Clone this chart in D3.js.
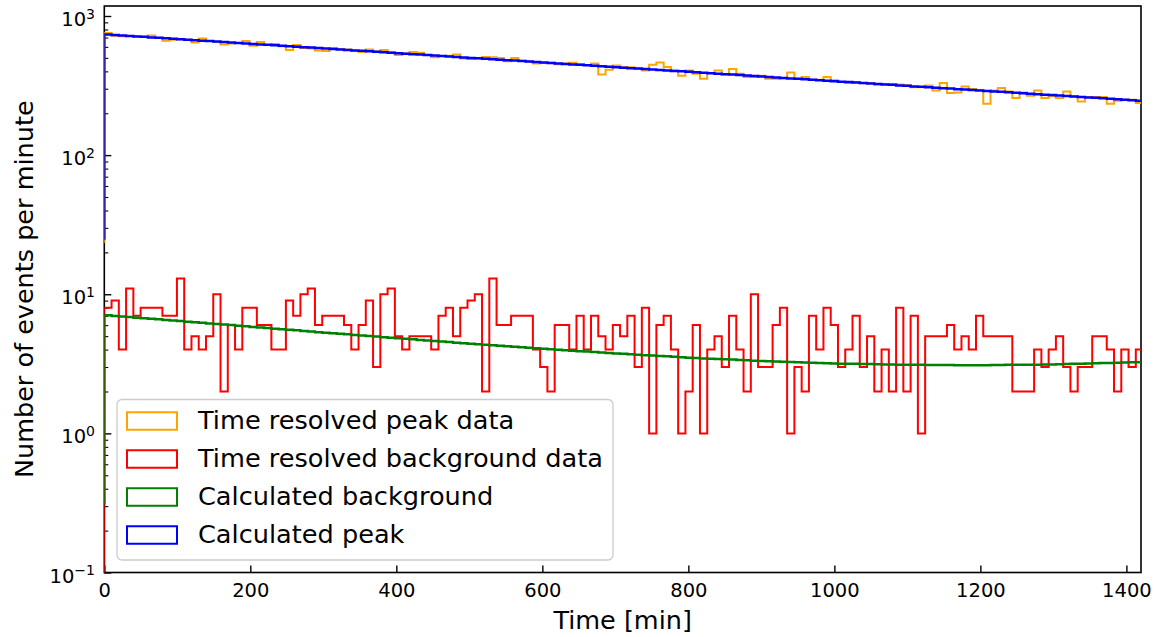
<!DOCTYPE html>
<html>
<head>
<meta charset="utf-8">
<script src="https://cdn.jsdelivr.net/npm/d3@7"></script>
<style>
  body { margin: 0; background: white; }
  svg { font-family: "DejaVu Sans", sans-serif; }
</style>
</head>
<body>
<div id="chart"></div>
<script>
// bins of ~10 min starting at t = 0
var binWidth = 9.95;

var peakData = [755, 720, 714, 719, 713, 708, 725, 697, 665, 675,
    681, 675, 645, 690, 660, 650, 625, 635, 640, 660,
    610, 650, 618, 630, 605, 570, 620, 590, 585, 565,
    560, 590, 580, 575, 562, 550, 575, 555, 570, 548,
    525, 538, 550, 545, 525, 505, 515, 518, 528, 495,
    490, 495, 508, 505, 498, 472, 500, 476, 470, 455,
    460, 462, 450, 455, 462, 450, 445, 455, 380, 410,
    440, 430, 428, 418, 405, 446, 464, 430, 406, 372,
    406, 385, 354, 389, 406, 379, 416, 385, 364, 364,
    372, 354, 354, 357, 393, 354, 364, 348, 348, 364,
    345, 335, 330, 336, 328, 330, 322, 325, 325, 322,
    318, 307, 307, 316, 292, 330, 280, 282, 312, 299,
    294, 234, 292, 304, 287, 257, 282, 267, 292, 257,
    265, 257, 287, 265, 243, 262, 262, 262, 234, 246,
    250, 250, 237];

var backgroundData = [8, 9, 4, 11, 7, 8, 8, 8, 7, 7,
    13, 4, 5, 4, 5, 10, 2, 6, 4, 8,
    8, 6, 6, 4, 4, 9, 7, 10, 11, 6,
    7, 7, 7, 6, 4, 6, 9, 3, 10, 11,
    5, 4, 5, 5, 5, 4, 7, 8, 5, 8,
    9, 10, 2, 13, 6, 6, 7, 7, 7, 4,
    3, 2, 6, 6, 4, 7, 4, 7, 5, 4,
    6, 5, 7, 3, 8, 1, 6, 7, 4, 1,
    2, 6, 1, 4, 5, 3, 7, 4, 2, 10,
    3, 3, 6, 8, 1, 3, 2, 7, 4, 8,
    6, 3, 4, 7, 3, 5, 2, 4, 2, 8,
    2, 7, 1, 5, 5, 5, 6, 4, 5, 4,
    7, 5, 5, 5, 5, 2, 2, 2, 4, 3,
    4, 5, 3, 2, 3, 3, 5, 5, 4, 2,
    4, 3, 4];

var calcBackground = [7.05, 6.99, 6.92, 6.86, 6.79, 6.73, 6.67, 6.60, 6.54, 6.47,
    6.41, 6.35, 6.29, 6.23, 6.17, 6.12, 6.06, 6.00, 5.94, 5.88,
    5.82, 5.77, 5.71, 5.66, 5.61, 5.56, 5.50, 5.45, 5.40, 5.34,
    5.29, 5.24, 5.20, 5.15, 5.10, 5.06, 5.01, 4.96, 4.91, 4.87,
    4.82, 4.78, 4.74, 4.69, 4.65, 4.61, 4.57, 4.53, 4.48, 4.44,
    4.40, 4.37, 4.33, 4.30, 4.26, 4.23, 4.19, 4.16, 4.12, 4.09,
    4.05, 4.02, 3.99, 3.96, 3.93, 3.90, 3.87, 3.84, 3.81, 3.78,
    3.75, 3.73, 3.70, 3.68, 3.65, 3.63, 3.60, 3.58, 3.55, 3.53,
    3.50, 3.48, 3.46, 3.44, 3.42, 3.41, 3.39, 3.37, 3.35, 3.33,
    3.31, 3.30, 3.28, 3.27, 3.26, 3.25, 3.23, 3.22, 3.21, 3.19,
    3.18, 3.17, 3.17, 3.16, 3.15, 3.15, 3.14, 3.13, 3.13, 3.12,
    3.11, 3.11, 3.11, 3.10, 3.10, 3.10, 3.10, 3.09, 3.09, 3.09,
    3.09, 3.09, 3.10, 3.10, 3.11, 3.11, 3.11, 3.12, 3.12, 3.13,
    3.13, 3.14, 3.15, 3.16, 3.17, 3.18, 3.19, 3.20, 3.21, 3.22,
    3.23, 3.24, 3.25];

var calcPeak = [735, 730, 724, 719, 713, 708, 702, 697, 691, 686,
    681, 675, 670, 665, 660, 655, 650, 645, 640, 635,
    630, 625, 621, 616, 611, 607, 602, 597, 593, 588,
    583, 579, 575, 570, 566, 562, 557, 553, 549, 544,
    540, 536, 532, 528, 524, 520, 516, 512, 508, 504,
    500, 496, 493, 489, 485, 481, 478, 474, 470, 467,
    463, 459, 456, 452, 449, 446, 442, 439, 435, 432,
    428, 425, 422, 419, 416, 413, 409, 406, 403, 400,
    397, 394, 391, 388, 385, 382, 379, 376, 373, 370,
    367, 364, 362, 359, 356, 354, 351, 348, 345, 343,
    340, 337, 335, 332, 330, 327, 325, 322, 320, 317,
    315, 312, 310, 308, 305, 303, 301, 298, 296, 294,
    291, 289, 287, 285, 283, 281, 278, 276, 274, 272,
    270, 268, 266, 264, 262, 260, 258, 256, 254, 252,
    250, 248, 246];

var xTicks = [0, 200, 400, 600, 800, 1000, 1200, 1400];
var yDecades = [-1, 0, 1, 2, 3];
var seriesNames = ["Time resolved peak data", "Time resolved background data",
    "Calculated background", "Calculated peak"];
var seriesColors = ["orange", "red", "green", "blue"];

var width = 1157;
var height = 637;
var plotLeft = 104.3, plotRight = 1141, plotTop = 6, plotBottom = 572.5;

var svg = d3.select("#chart")
    .append("svg")
    .attr("width", width)
    .attr("height", height);

var x = d3.scaleLinear().domain([0, 1420]).range([plotLeft, plotRight]);
var y = d3.scaleLog().domain([0.1, 1180]).range([plotBottom, plotTop]);

svg.append("clipPath")
    .attr("id", "plotclip")
    .append("rect")
    .attr("x", plotLeft)
    .attr("y", plotTop)
    .attr("width", plotRight - plotLeft)
    .attr("height", plotBottom - plotTop);

// minor ticks on the log axis
var minorTicks = [];
yDecades.forEach(function (e) {
    for (var m = 2; m <= 9; m++) {
        var v = m * Math.pow(10, e);
        if (v < 1180) minorTicks.push(v);
    }
});

var xAxis = svg.append("g")
    .attr("transform", "translate(0," + plotBottom + ")")
    .call(d3.axisBottom(x).tickValues(xTicks).tickSize(-7).tickPadding(10.5)
        .tickFormat(d3.format("d")));
xAxis.select(".domain").remove();
xAxis.selectAll("line").attr("stroke", "black").attr("stroke-width", 1.4);
xAxis.selectAll("text")
    .attr("font-size", "19.5px")
    .attr("font-family", "DejaVu Sans")
    .attr("fill", "black");

var yAxis = svg.append("g")
    .attr("transform", "translate(" + plotLeft + ",0)")
    .call(d3.axisLeft(y).tickValues(yDecades.map(function (e) { return Math.pow(10, e); }))
        .tickSize(-7).tickFormat(""));
yAxis.select(".domain").remove();
yAxis.selectAll("line").attr("stroke", "black").attr("stroke-width", 1.4);

var yMinor = svg.append("g")
    .attr("transform", "translate(" + plotLeft + ",0)")
    .call(d3.axisLeft(y).tickValues(minorTicks).tickSize(-4).tickFormat(""));
yMinor.select(".domain").remove();
yMinor.selectAll("line").attr("stroke", "black").attr("stroke-width", 1.1);

// 10^n labels
var yLabels = svg.append("g").selectAll("text")
    .data(yDecades)
    .enter()
    .append("text")
    .attr("x", 95)
    .attr("y", function (d) { return y(Math.pow(10, d)) + 10; })
    .attr("text-anchor", "end")
    .attr("font-size", "19.5px")
    .attr("fill", "black");
yLabels.append("tspan").text("10");
yLabels.append("tspan")
    .attr("dy", -7.5)
    .attr("font-size", "14px")
    .text(function (d) { return d < 0 ? "\u2212" + (-d) : "" + d; });

// frame
svg.append("rect")
    .attr("x", plotLeft)
    .attr("y", plotTop)
    .attr("width", plotRight - plotLeft)
    .attr("height", plotBottom - plotTop)
    .attr("fill", "none")
    .attr("stroke", "black")
    .attr("stroke-width", 1.6);

function stepPath(values) {
    var floor = d3.min(values) / 10;
    var pts = [[0, floor]];
    values.forEach(function (v, i) {
        pts.push([i * binWidth, v]);
        pts.push([(i + 1) * binWidth, v]);
    });
    pts.push([values.length * binWidth, floor]);
    return d3.line()
        .x(function (d) { return x(d[0]); })
        .y(function (d) { return y(d[1]); })(pts);
}

var allSeries = [peakData, backgroundData, calcBackground, calcPeak];
var lineWidths = [2, 2, 2.5, 2.5];

var plot = svg.append("g").attr("clip-path", "url(#plotclip)");
plot.selectAll("path")
    .data(allSeries)
    .enter()
    .append("path")
    .attr("d", stepPath)
    .attr("fill", "none")
    .attr("stroke", function (d, i) { return seriesColors[i]; })
    .attr("stroke-width", function (d, i) { return lineWidths[i]; })
    .attr("stroke-linejoin", "miter");

// axis titles
svg.append("text")
    .attr("x", (plotLeft + plotRight) / 2)
    .attr("y", 629)
    .attr("text-anchor", "middle")
    .attr("font-size", "25.5px")
    .attr("fill", "black")
    .text("Time [min]");

svg.append("text")
    .attr("transform", "translate(33," + ((plotTop + plotBottom) / 2) + ") rotate(-90)")
    .attr("text-anchor", "middle")
    .attr("font-size", "25.5px")
    .attr("fill", "black")
    .text("Number of events per minute");

// legend
var legend = svg.append("g").attr("class", "legend");
legend.append("rect")
    .attr("x", 117)
    .attr("y", 399.5)
    .attr("width", 496)
    .attr("height", 160.5)
    .attr("rx", 5)
    .attr("fill", "white")
    .attr("fill-opacity", 0.8)
    .attr("stroke", "#cccccc")
    .attr("stroke-width", 1.3);

var rows = legend.selectAll("g.row")
    .data(seriesNames)
    .enter()
    .append("g")
    .attr("class", "row");

rows.append("rect")
    .attr("x", 127)
    .attr("y", function (d, i) { return 421 + i * 38 - 8.75; })
    .attr("width", 50)
    .attr("height", 17.5)
    .attr("fill", "none")
    .attr("stroke", function (d, i) { return seriesColors[i]; })
    .attr("stroke-width", 2);

rows.append("text")
    .attr("x", 198)
    .attr("y", function (d, i) { return 421 + i * 38 + 7.5; })
    .attr("font-size", "25.6px")
    .attr("fill", "black")
    .text(function (d) { return d; });
</script>
</body>
</html>
